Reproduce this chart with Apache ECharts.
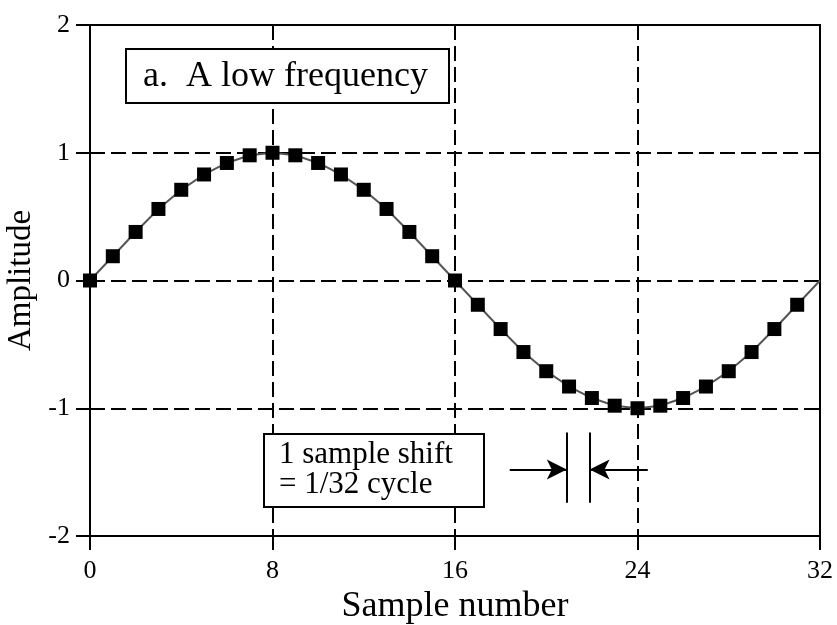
<!DOCTYPE html>
<html>
<head>
<meta charset="utf-8">
<script src="https://cdn.jsdelivr.net/npm/echarts@6/dist/echarts.min.js"></script>
<style>
  html, body { margin: 0; padding: 0; background: #fff; }
  #main { width: 837px; height: 625px; }
</style>
</head>
<body>
<div id="main"></div>
<script>
// sample points (one sample per marker)
var samples = [0, 1, 2, 3, 4, 5, 6, 7, 8, 9, 10, 11, 12, 13, 14, 15, 16,
    17, 18, 19, 20, 21, 22, 23, 24, 25, 26, 27, 28, 29, 30, 31, 32];
var amplitude = [0, 0.19, 0.38, 0.56, 0.71, 0.83, 0.92, 0.98, 1, 0.98, 0.92, 0.83, 0.71, 0.56, 0.38, 0.19, 0,
    -0.19, -0.38, -0.56, -0.71, -0.83, -0.92, -0.98, -1, -0.98, -0.92, -0.83, -0.71, -0.56, -0.38, -0.19, 0];
// last point has no marker in the picture
var markedCount = 32;

// the "1 sample shift" marker: two bars one sample apart, arrows pointing at them
var shiftBars = [20.9, 21.9];
var shiftBarY = [-1.19, -1.74];
var arrowY = -1.48;
var arrowLeftFrom = 18.4;
var arrowRightFrom = 24.45;

var serif = 'Liberation Serif';

var myChart = echarts.init(document.getElementById('main'));

var lineData = [];
for (let i = 0; i < samples.length; i++) {
    let item = {value: [samples[i], amplitude[i]]};
    if (i >= markedCount) item.symbol = 'none';
    lineData.push(item);
}

var gridLine = {show: true, lineStyle: {color: '#000', width: 2, type: [15, 6]}};
var tick = {show: true, inside: false, length: 14, lineStyle: {color: '#000', width: 2}};

let option = {
    backgroundColor: '#fff',
    animation: false,
    grid: {
        left: 90, right: 17, top: 25, bottom: 89,
        outerBoundsMode: 'none',
        containLabel: false,
        show: true, borderColor: '#000', borderWidth: 2
    },
    xAxis: {
        type: 'value',
        min: 0, max: 32, interval: 8,
        name: 'Sample number',
        nameLocation: 'middle',
        nameGap: 52,
        nameTextStyle: {fontFamily: serif, fontSize: 36, color: '#000'},
        axisLine: {show: true, onZero: false, lineStyle: {color: '#000', width: 2}},
        axisTick: tick,
        axisLabel: {fontFamily: serif, fontSize: 26, color: '#000', margin: 22},
        splitLine: gridLine
    },
    yAxis: {
        type: 'value',
        min: -2, max: 2, interval: 1,
        name: 'Amplitude',
        nameLocation: 'middle',
        nameGap: 50,
        nameTextStyle: {fontFamily: serif, fontSize: 33, color: '#000'},
        axisLine: {show: true, onZero: false, lineStyle: {color: '#000', width: 2}},
        axisTick: tick,
        axisLabel: {fontFamily: serif, fontSize: 26, color: '#000', margin: 20},
        splitLine: gridLine
    },
    series: [
        {
            name: 'signal',
            type: 'line',
            data: lineData,
            symbol: 'rect',
            symbolSize: 14,
            showAllSymbol: true,
            lineStyle: {color: '#555', width: 2},
            itemStyle: {color: '#000'},
            z: 5
        },
        {
            name: 'shift',
            type: 'line',
            data: [],
            markLine: {
                silent: true,
                animation: false,
                label: {show: false},
                lineStyle: {color: '#000', width: 2, type: 'solid'},
                data: [
                    [{coord: [shiftBars[0], shiftBarY[0]], symbol: 'none'},
                     {coord: [shiftBars[0], shiftBarY[1]], symbol: 'none'}],
                    [{coord: [shiftBars[1], shiftBarY[0]], symbol: 'none'},
                     {coord: [shiftBars[1], shiftBarY[1]], symbol: 'none'}],
                    [{coord: [arrowLeftFrom, arrowY], symbol: 'none'},
                     {coord: [shiftBars[0], arrowY], symbol: 'arrow', symbolSize: [15, 20]}],
                    [{coord: [arrowRightFrom, arrowY], symbol: 'none'},
                     {coord: [shiftBars[1], arrowY], symbol: 'arrow', symbolSize: [15, 20]}]
                ]
            }
        }
    ],
    graphic: {
        z: 100,
        elements: [
            {
                type: 'group',
                left: 125, top: 48,
                z: 100,
                children: [
                    {type: 'rect', z: 100, shape: {x: 0, y: 0, width: 323, height: 54},
                     style: {fill: '#fff', stroke: '#000', lineWidth: 2}},
                    {type: 'text', z: 101, x: 17, y: 28,
                     style: {text: 'a.  A low frequency', fontFamily: serif, fontSize: 36,
                             fill: '#000', verticalAlign: 'middle'}}
                ]
            },
            {
                type: 'group',
                left: 263, top: 433,
                z: 100,
                children: [
                    {type: 'rect', z: 100, shape: {x: 0, y: 0, width: 220, height: 73},
                     style: {fill: '#fff', stroke: '#000', lineWidth: 2}},
                    {type: 'text', z: 101, x: 15, y: 21,
                     style: {text: '1 sample shift', fontFamily: serif, fontSize: 31,
                             fill: '#000', verticalAlign: 'middle'}},
                    {type: 'text', z: 101, x: 15, y: 51,
                     style: {text: '= 1/32 cycle', fontFamily: serif, fontSize: 31,
                             fill: '#000', verticalAlign: 'middle'}}
                ]
            }
        ]
    }
};
myChart.setOption(option);
</script>
</body>
</html>
